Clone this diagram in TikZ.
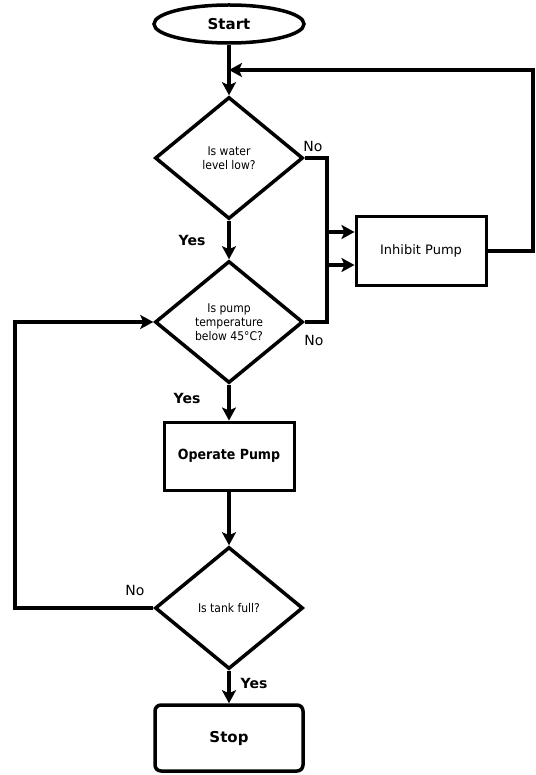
\documentclass[tikz,border=0pt]{standalone}
\usepackage{fontspec}
\setmainfont{DejaVu Sans}
\newfontfamily\condfont{DejaVu Sans Condensed}
\usetikzlibrary{shapes.geometric,arrows.meta}
\begin{document}
\begin{tikzpicture}[x=1pt,y=-1pt,
  conn/.style={line width=3.5pt},
  arr/.style={conn,-{Stealth[length=13pt,width=14pt,inset=3pt]}},
  dia/.style={diamond,draw,line width=3.5pt,minimum width=148pt,minimum height=122pt,inner sep=0pt,align=center,font=\condfont\fontsize{12}{14}\selectfont},
  boxstyle/.style={rectangle,draw,line width=3pt,minimum width=130pt,minimum height=68pt,font=\fontsize{13}{15}\selectfont},
  lbl/.style={font=\fontsize{14}{16}\selectfont}
]
\useasboundingbox (0,0) rectangle (535,775);
\node[ellipse,draw,line width=3.5pt,minimum width=150pt,minimum height=38pt,font=\bfseries\fontsize{15}{17}\selectfont] (start) at (229,24) {Start};
\node[dia] (d1) at (229,158) {Is water\\level low?};
\node[dia] (d2) at (229,322) {Is pump\\temperature\\below 45°C?};
\node[boxstyle] (inhibit) at (421,251) {Inhibit Pump\hspace{16pt}};
\node[boxstyle,font=\bfseries\condfont\fontsize{14}{16}\selectfont] (operate) at (229,456) {Operate Pump};
\node[dia] (d3) at (229,608) {Is tank full?};
\node[rectangle,rounded corners=6pt,draw,line width=3.5pt,minimum width=148pt,minimum height=66pt,font=\bfseries\fontsize{15}{17}\selectfont] (stop) at (229,738) {Stop};

\coordinate (join) at (229,70);
\coordinate (rb) at (533,251);
\coordinate (rt) at (533,70);
\coordinate (lb) at (15,608);

\draw[arr] (start.south) -- (d1.north);
\draw[arr] (inhibit.east) -- (rb) -- (rt) -- (join);
\draw[arr] (d1.east) -- ++(22,0) |- ([yshift=-14pt]inhibit.west);
\draw[arr] (d2.east) -- ++(22,0) |- ([yshift=19pt]inhibit.west);
\draw[arr] (d1.south) -- (d2.north);
\draw[arr] (d2.south) -- (operate.north);
\draw[arr] (operate.south) -- (d3.north);
\draw[arr] (d3.south) -- (stop.north);
\draw[arr] (d3.west) -- (lb) |- (d2.west);

\node[lbl] (no1) at (313,146) {No};
\node[lbl,font=\bfseries\fontsize{14}{16}\selectfont] (yes1) at (192,240) {Yes};
\node[lbl] (no2) at (314,340) {No};
\node[lbl,font=\bfseries\fontsize{14}{16}\selectfont] (yes2) at (187,398) {Yes};
\node[lbl] (no3) at (135,590) {No};
\node[lbl,font=\bfseries\fontsize{14}{16}\selectfont] (yes3) at (254,683) {Yes};
\end{tikzpicture}
\end{document}
